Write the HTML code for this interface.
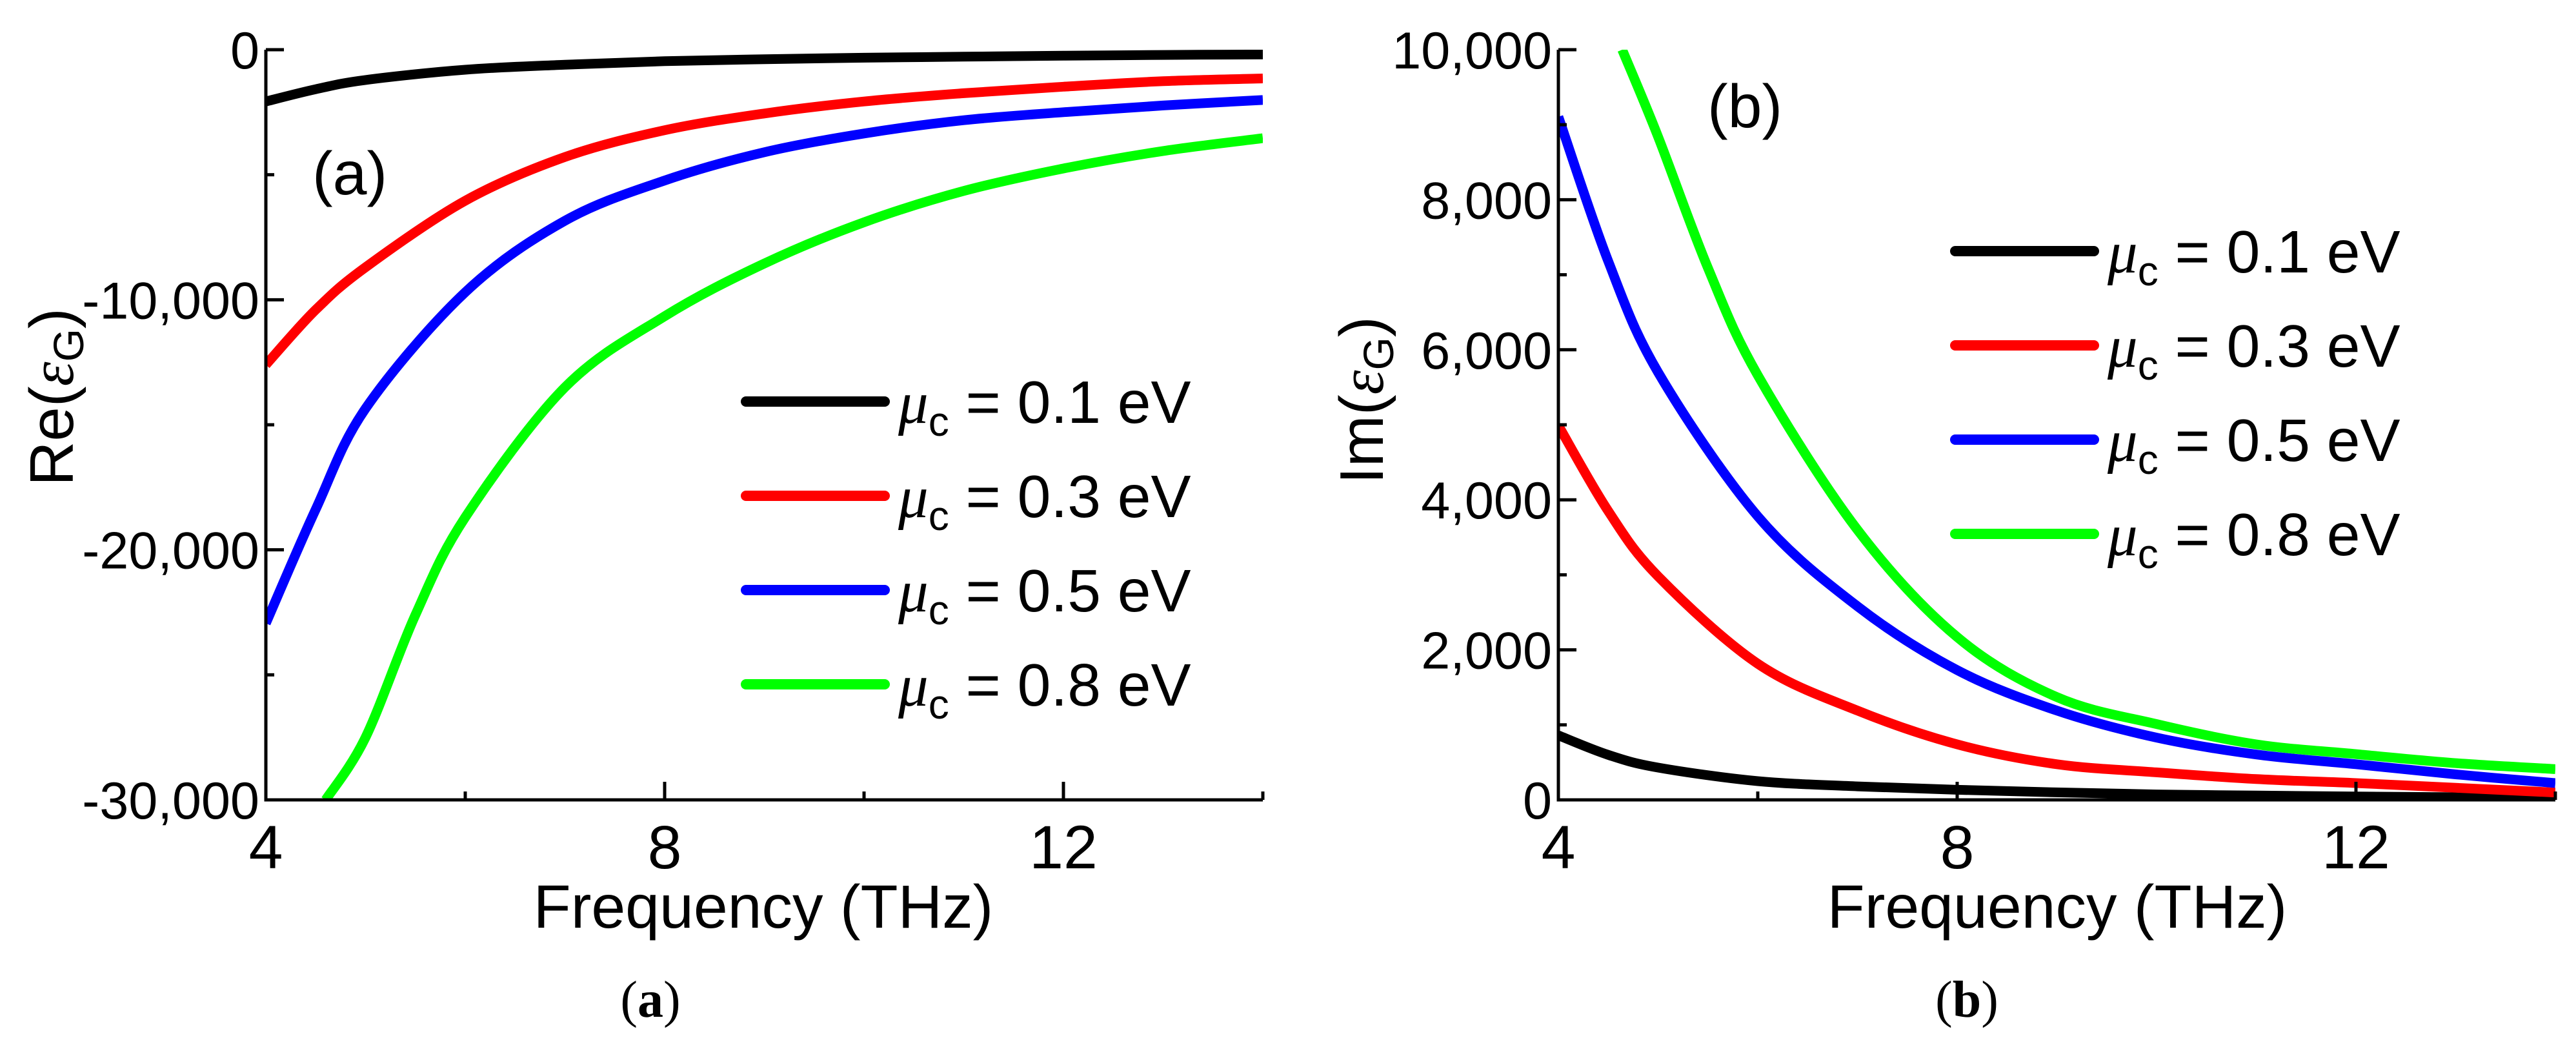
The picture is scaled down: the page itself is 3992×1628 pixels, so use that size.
<!DOCTYPE html>
<html><head><meta charset="utf-8">
<style>
html,body{margin:0;padding:0;background:#fff;}
svg{display:block;font-family:"Liberation Sans",sans-serif;}
</style></head>
<body>
<svg id="fig" width="3992" height="1628" viewBox="0 0 3992 1628" xmlns="http://www.w3.org/2000/svg">
<defs>
<clipPath id="clipA"><rect x="412" y="77" width="1545" height="1162"/></clipPath>
<clipPath id="clipB"><rect x="2415" y="77" width="1545" height="1162"/></clipPath>
</defs>
<g id="panelA"></g>
<g id="panelB"></g>
</svg>
<script>
// shared data
const legendLabels = ["0.1", "0.3", "0.5", "0.8"];
const seriesColors = ["#000000", "#ff0000", "#0000ff", "#00ff00"];
const xTicks = [4, 8, 12];
const xMinor = [6, 10, 14];
// panel (a): Re(eps_G)
const reFreq = [4, 4.5, 5, 6, 7, 8, 9, 10, 11, 12, 13, 14];
const reBlack = [-2070, -1580, -1210, -800, -600, -460, -380, -320, -280, -240, -210, -190];
const reRed = [-12600, -10400, -8700, -6040, -4290, -3220, -2550, -2070, -1740, -1480, -1260, -1150];
const reBlue = [-22940, -18380, -14350, -9700, -6840, -5230, -4100, -3350, -2820, -2500, -2230, -2010];
const reGreenFreq = [4.6, 5, 5.5, 6, 7, 8, 9, 10, 11, 12, 13, 14];
const reGreen = [-30000, -27500, -22600, -18700, -13500, -10660, -8550, -6900, -5650, -4750, -4050, -3540];
const reYTicks = [0, -10000, -20000, -30000];
const reYTickLabels = ["0", "-10,000", "-20,000", "-30,000"];
const reYMinor = [-5000, -15000, -25000];
// panel (b): Im(eps_G)
const imFreq = [4, 4.5, 5, 6, 7, 8, 9, 10, 11, 12, 13, 14];
const imBlack = [860, 600, 430, 250, 180, 134, 100, 72, 58, 45, 35, 27];
const imRed = [4990, 3850, 2980, 1815, 1190, 740, 475, 367, 277, 224, 161, 98];
const imBlue = [9106, 7180, 5700, 3780, 2580, 1730, 1190, 830, 605, 475, 340, 224];
const imGreenFreq = [4.64, 5, 5.5, 6, 7, 8, 9, 10, 11, 12, 13, 14];
const imGreen = [10000, 8840, 7090, 5660, 3600, 2170, 1370, 1010, 740, 610, 490, 410];
const imYTicks = [0, 2000, 4000, 6000, 8000, 10000];
const imYTickLabels = ["0", "2,000", "4,000", "6,000", "8,000", "10,000"];
const imYMinor = [1000, 3000, 5000, 7000, 9000];

const NS = "http://www.w3.org/2000/svg";
function mk(parent, tag, attrs){
  const e = document.createElementNS(NS, tag);
  for (const k in attrs) e.setAttribute(k, attrs[k]);
  parent.appendChild(e);
  return e;
}
function smoothPath(pts){
  let d = "M" + pts[0][0].toFixed(1) + "," + pts[0][1].toFixed(1);
  for (let i = 0; i < pts.length - 1; i++){
    const p0 = pts[Math.max(0,i-1)], p1 = pts[i], p2 = pts[i+1], p3 = pts[Math.min(pts.length-1,i+2)];
    const c1x = p1[0] + (p2[0]-p0[0])/6, c1y = p1[1] + (p2[1]-p0[1])/6;
    const c2x = p2[0] - (p3[0]-p1[0])/6, c2y = p2[1] - (p3[1]-p1[1])/6;
    d += " C" + c1x.toFixed(1)+","+c1y.toFixed(1)+" "+c2x.toFixed(1)+","+c2y.toFixed(1)+" "+p2[0].toFixed(1)+","+p2[1].toFixed(1);
  }
  return d;
}

function drawPanel(cfg){
  const g = document.getElementById(cfg.id);
  const x0 = cfg.x0, x1 = cfg.x1, yT = 77, yB = 1239;
  const xs = f => x0 + (f - 4) / 10 * (x1 - x0);
  const ys = v => yB - (v - cfg.ymin) / (cfg.ymax - cfg.ymin) * (yB - yT);

  const sg = mk(g, "g", {"clip-path": "url(#" + cfg.clip + ")"});
  
  
  cfg.series.forEach((s, i) => {
    const pts = s.f.map((f, j) => [xs(f), ys(s.v[j])]);
    const p = mk(sg, "path", {d: smoothPath(pts), fill: "none", stroke: seriesColors[i], "stroke-width": 15, "stroke-linejoin": "round"});
    
    
  });

  const ax = mk(g, "path", {d: "M" + x0 + "," + yT + " V" + yB + " H" + x1, fill: "none", stroke: "#000", "stroke-width": 5});
  
  

  cfg.yTicks.forEach((v, i) => {
    const y = ys(v);
    const t = mk(g, "line", {x1: x0, x2: x0 + 28, y1: y, y2: y, stroke: "#000", "stroke-width": 5});
    
    
    const lb = mk(g, "text", {x: x0 - 10, y: y + 29, "font-size": 81, "text-anchor": "end"});
    lb.textContent = cfg.yLabels[i];
    
    
  });
  cfg.yMinor.forEach(v => {
    const y = ys(v);
    const t = mk(g, "line", {x1: x0, x2: x0 + 13, y1: y, y2: y, stroke: "#000", "stroke-width": 5});
    
    
  });
  xTicks.forEach(f => {
    const x = xs(f);
    const t = mk(g, "line", {x1: x, x2: x, y1: yB, y2: yB - 28, stroke: "#000", "stroke-width": 5});
    
    
    const lb = mk(g, "text", {x: x, y: 1345, "font-size": 95, "text-anchor": "middle"});
    lb.textContent = String(f);
    
    
  });
  xMinor.forEach(f => {
    const x = xs(f);
    const t = mk(g, "line", {x1: x, x2: x, y1: yB, y2: yB - 13, stroke: "#000", "stroke-width": 5});
    
    
  });

  const xt = mk(g, "text", {x: cfg.xTitleX, y: 1437, "font-size": 95, "text-anchor": "middle"});
  xt.textContent = "Frequency (THz)";
  
  

  const yt = mk(g, "text", {x: 0, y: 0, "font-size": 96, "text-anchor": "middle",
    transform: "translate(" + cfg.yTitleX + "," + cfg.yTitleY + ") rotate(-90)"});
  
  
  const s1 = mk(yt, "tspan", {}); s1.textContent = cfg.yPrefix + "(";
  const s2 = mk(yt, "tspan", {"font-family": "Liberation Serif, serif", "font-style": "italic"}); s2.textContent = "ε";
  const s3 = mk(yt, "tspan", {"font-size": 66, dy: 16}); s3.textContent = "G";
  const s4 = mk(yt, "tspan", {dy: -16}); s4.textContent = ")";

  const pl = mk(g, "text", {x: cfg.plX, y: cfg.plY, "font-size": 95});
  pl.textContent = cfg.panelLabel;
  
  

  legendLabels.forEach((lab, i) => {
    const y = cfg.legY + i * 146;
    const eg = mk(g, "g", {});
    
    
    mk(eg, "line", {x1: cfg.legX, x2: cfg.legX + 215, y1: y, y2: y, stroke: seriesColors[i], "stroke-width": 16, "stroke-linecap": "round"});
    const t = mk(eg, "text", {x: cfg.legX + 236, y: y + 33, "font-size": 93});
    const m = mk(t, "tspan", {"font-family": "Liberation Serif, serif", "font-style": "italic"}); m.textContent = "μ";
    const c = mk(t, "tspan", {"font-size": 64, dy: 20}); c.textContent = "c";
    const r = mk(t, "tspan", {dy: -20}); r.textContent = " = " + lab + " eV";
  });

  const cap = mk(g, "text", {x: cfg.capX, y: 1575, "font-size": 80, "text-anchor": "middle", "font-family": "Liberation Serif, serif"});
  
  
  const c1 = mk(cap, "tspan", {}); c1.textContent = "(";
  const c2 = mk(cap, "tspan", {"font-weight": "bold"}); c2.textContent = cfg.capLetter;
  const c3 = mk(cap, "tspan", {}); c3.textContent = ")";
}

drawPanel({id: "panelA", clip: "clipA", x0: 412, x1: 1957, ymin: -30000, ymax: 0,
  series: [{f: reFreq, v: reBlack}, {f: reFreq, v: reRed}, {f: reFreq, v: reBlue}, {f: reGreenFreq, v: reGreen}],
  yTicks: reYTicks, yLabels: reYTickLabels, yMinor: reYMinor,
  xTitleX: 1183, yTitleX: 113, yTitleY: 615, yPrefix: "Re",
  plX: 484, plY: 301, panelLabel: "(a)", legX: 1156, legY: 622, capX: 1008, capLetter: "a"});

drawPanel({id: "panelB", clip: "clipB", x0: 2415, x1: 3960, ymin: 0, ymax: 10000,
  series: [{f: imFreq, v: imBlack}, {f: imFreq, v: imRed}, {f: imFreq, v: imBlue}, {f: imGreenFreq, v: imGreen}],
  yTicks: imYTicks, yLabels: imYTickLabels, yMinor: imYMinor,
  xTitleX: 3188, yTitleX: 2143, yTitleY: 620, yPrefix: "Im",
  plX: 2646, plY: 197, panelLabel: "(b)", legX: 3030, legY: 389, capX: 3048, capLetter: "b"});
</script>
</body></html>
